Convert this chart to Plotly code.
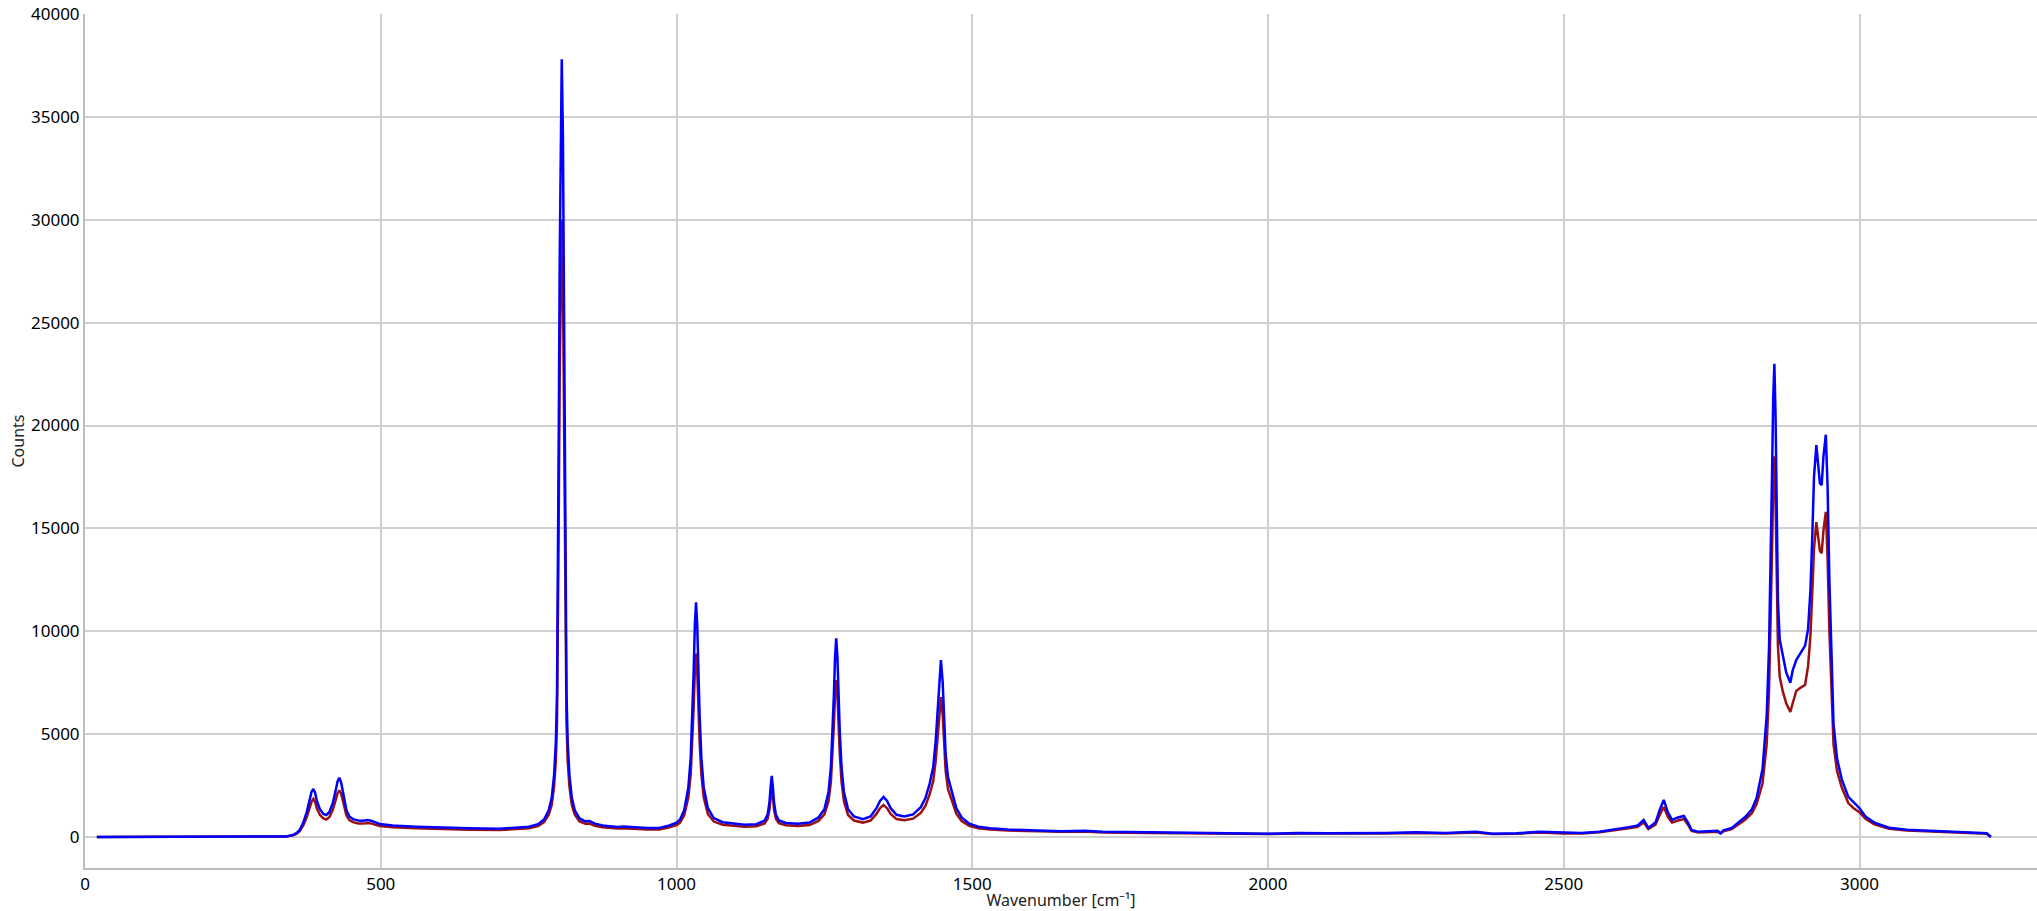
import plotly.graph_objects as go

# Wavenumber positions (cm^-1)
wavenumber = [
    20, 100, 200, 300, 324, 340, 352, 358, 363, 369, 375, 380, 383, 386, 389, 392, 397, 403, 408, 413,
    419, 424, 427, 430, 433, 437, 442, 447, 453, 462, 470, 478, 485, 498, 520, 560, 600, 650, 700, 730,
    750, 766, 776, 784, 789, 793, 796, 798, 799.5, 801, 802.5, 804, 806, 808, 809.5, 811, 812.5, 814, 816, 819,
    823, 828, 836, 846, 853, 862, 875, 887, 900, 910, 925, 950, 971, 988, 1000, 1006, 1013, 1020, 1024, 1027,
    1029, 1031, 1033, 1035, 1037, 1039, 1042, 1046, 1053, 1063, 1078, 1095, 1115, 1135, 1149, 1154, 1157, 1159, 1161, 1163,
    1165, 1168, 1173, 1185, 1205, 1225, 1240, 1250, 1257, 1261, 1264, 1266, 1268, 1270, 1272, 1274, 1276, 1279, 1283, 1290,
    1300, 1315, 1328, 1338, 1344, 1350, 1356, 1362, 1372, 1385, 1400, 1413, 1421, 1428, 1434, 1438, 1441, 1444, 1447, 1450,
    1452, 1455, 1459, 1463, 1467, 1473, 1482, 1495, 1510, 1530, 1560, 1600, 1650, 1690, 1720, 1800, 1900, 2000, 2050, 2100,
    2200, 2250, 2300, 2351, 2380, 2420, 2458, 2500, 2530, 2560, 2581, 2610, 2625, 2635, 2643, 2655, 2662, 2669, 2676, 2683,
    2693, 2703, 2710, 2716, 2728, 2745, 2760, 2765, 2770, 2784, 2795, 2807, 2818, 2826, 2836, 2843, 2847, 2850, 2852, 2854,
    2856, 2858, 2860, 2862, 2865, 2870, 2876, 2883, 2887, 2893, 2900, 2908, 2913, 2917, 2920, 2923, 2927, 2930, 2933, 2936,
    2939, 2943, 2946, 2949, 2952, 2956, 2962, 2970, 2981, 2990, 3000, 3010, 3025, 3050, 3080, 3100, 3150, 3200, 3215, 3222,
]

# Blue spectrum (Counts)
counts_blue = [
    0, 0, 0, 0, 0, 30, 100, 200, 340, 700, 1220, 1850, 2200, 2330, 2150, 1750, 1350, 1120, 1070, 1200,
    1650, 2300, 2700, 2880, 2650, 2050, 1300, 1000, 870, 800, 790, 820, 780, 630, 560, 500, 450, 420, 400, 440,
    500, 620, 850, 1300, 1900, 3000, 4600, 7000, 12000, 20000, 28000, 34000, 37800, 34000, 28000, 20000, 12000, 7000, 4600, 3000,
    1900, 1300, 900, 760, 780, 650, 560, 530, 490, 510, 470, 440, 440, 560, 700, 850, 1300, 2400, 3850, 5950,
    8050, 10300, 11400, 10300, 8050, 5950, 3850, 2400, 1400, 920, 720, 650, 600, 620, 800, 1090, 1640, 2390, 2970, 2390,
    1640, 1090, 800, 680, 640, 700, 950, 1350, 2190, 3390, 5130, 6860, 8750, 9650, 8750, 6860, 5130, 3390, 2190, 1350,
    1000, 870, 1000, 1400, 1750, 1950, 1750, 1400, 1080, 1000, 1100, 1450, 1900, 2600, 3400, 4600, 5800, 7500, 8600, 7500,
    5700, 4000, 2900, 2500, 2000, 1400, 950, 650, 500, 420, 360, 320, 280, 300, 250, 230, 190, 160, 190, 180,
    200, 230, 190, 250, 160, 180, 250, 200, 200, 260, 340, 480, 560, 830, 440, 700, 1300, 1800, 1200, 830,
    950, 1020, 700, 340, 250, 280, 300, 180, 320, 440, 700, 980, 1350, 1900, 3300, 5900, 9200, 13600, 17500, 21300,
    23000, 20500, 15500, 11500, 9600, 8800, 8000, 7500, 8100, 8600, 8900, 9300, 10100, 12000, 14500, 17500, 19050, 18000, 17200, 17100,
    18500, 19550, 17000, 12500, 9000, 5500, 3800, 2800, 1950, 1700, 1400, 1000, 700, 450, 350, 330, 260, 220, 180, 0,
]

# Dark red spectrum (Counts)
counts_red = [
    0, 0, 0, 0, 0, 25, 80, 160, 280, 560, 970, 1450, 1720, 1850, 1700, 1380, 1080, 900, 850, 960,
    1320, 1820, 2130, 2270, 2100, 1640, 1050, 820, 720, 660, 650, 680, 650, 530, 470, 420, 380, 350, 340, 370,
    420, 530, 720, 1080, 1550, 2450, 3700, 5600, 9600, 16000, 22300, 27000, 30000, 27000, 22300, 16000, 9600, 5600, 3700, 2450,
    1550, 1080, 760, 640, 650, 550, 470, 440, 410, 430, 400, 370, 370, 470, 580, 700, 1060, 1920, 3040, 4670,
    6300, 8070, 8920, 8070, 6300, 4670, 3040, 1920, 1120, 750, 600, 540, 500, 520, 660, 890, 1310, 1890, 2330, 1890,
    1310, 890, 670, 570, 530, 580, 780, 1100, 1740, 2680, 4060, 5430, 6920, 7630, 6920, 5430, 4060, 2680, 1740, 1070,
    800, 700, 800, 1120, 1400, 1560, 1400, 1120, 870, 810, 890, 1170, 1520, 2080, 2720, 3650, 4600, 5950, 6800, 5950,
    4500, 3200, 2320, 2000, 1600, 1130, 780, 540, 420, 360, 310, 280, 250, 265, 220, 200, 170, 140, 165, 160,
    175, 200, 170, 220, 140, 160, 220, 175, 175, 230, 300, 420, 490, 700, 390, 600, 1060, 1460, 980, 700,
    800, 870, 600, 300, 220, 250, 260, 170, 280, 380, 600, 850, 1150, 1600, 2600, 4500, 7100, 10600, 13800, 17000,
    18500, 16300, 12500, 9300, 7800, 7100, 6500, 6080, 6500, 7100, 7250, 7400, 8300, 9800, 11800, 14000, 15300, 14500, 13900, 13800,
    14900, 15800, 13500, 10000, 7200, 4500, 3200, 2400, 1650, 1400, 1200, 880, 620, 400, 310, 290, 230, 200, 160, 0,
]

assert len(wavenumber) == len(counts_blue) == len(counts_red)

x_ticks = [0, 500, 1000, 1500, 2000, 2500, 3000]
y_ticks = [0, 5000, 10000, 15000, 20000, 25000, 30000, 35000, 40000]

fig = go.Figure()
fig.add_trace(go.Scatter(x=wavenumber, y=counts_red, mode="lines",
                         line=dict(color="#9b1010", width=2.5), showlegend=False))
fig.add_trace(go.Scatter(x=wavenumber, y=counts_blue, mode="lines",
                         line=dict(color="#0000ff", width=2.5), showlegend=False))

font_family = "Noto Sans, Open Sans, DejaVu Sans, sans-serif"
fig.update_layout(
    width=2037, height=911,
    margin=dict(l=85, r=0, t=14, b=43, pad=0),
    plot_bgcolor="white", paper_bgcolor="white",
    font=dict(family=font_family, color="black"),
    xaxis=dict(range=[0, 3300], tickvals=x_ticks, ticktext=[str(v) for v in x_ticks],
               showgrid=True, gridcolor="#d0d0d0", gridwidth=2,
               showline=True, linecolor="#bdbdbd", linewidth=2, zeroline=False,
               ticks="", tickfont=dict(size=17), automargin=False, ticklabeloverflow="allow",
               title=dict(text="Wavenumber [cm⁻¹]", font=dict(size=16, color="#222222"), standoff=0)),
    yaxis=dict(range=[-1507, 40000], tickvals=y_ticks, ticktext=[str(v) for v in y_ticks],
               showgrid=True, gridcolor="#d0d0d0", gridwidth=2,
               showline=True, linecolor="#bdbdbd", linewidth=2, zeroline=False,
               ticks="", tickfont=dict(size=17), automargin=False, ticklabeloverflow="allow",
               title=dict(text="Counts", font=dict(size=16, color="#222222"), standoff=2)),
)

# remove the default 8px page margin so the figure fills the window exactly
fig.write_html("out.html", config={"displayModeBar": False},
               post_script="document.body.style.margin='0px';")
